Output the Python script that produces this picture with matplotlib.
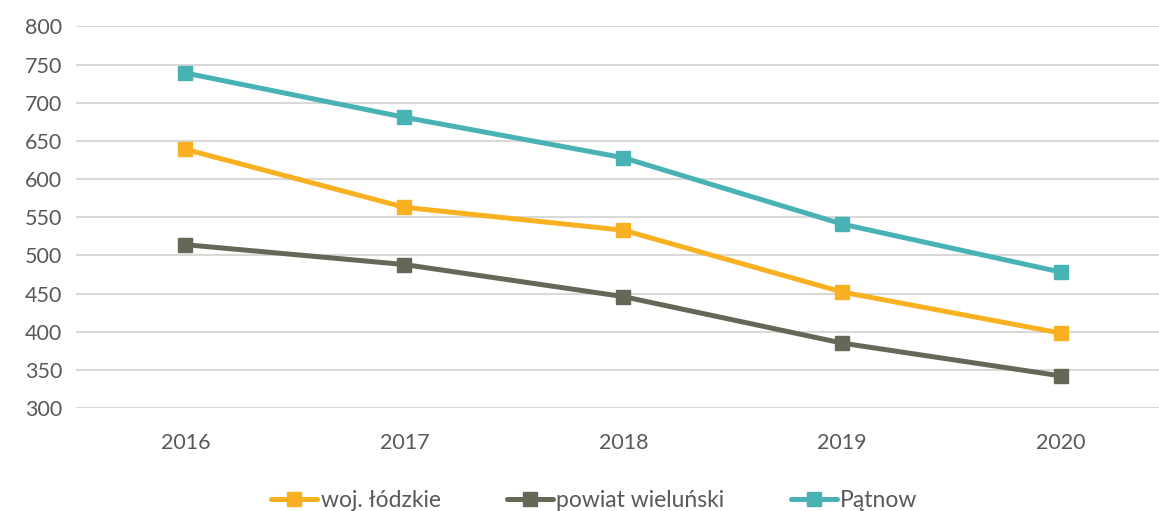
import matplotlib
matplotlib.use("Agg")
import matplotlib.pyplot as plt

years = ["2016", "2017", "2018", "2019", "2020"]
woj_lodzkie = [639, 563, 533, 452, 398]
powiat_wielunski = [514, 488, 446, 385, 342]
patnow = [739, 681, 628, 541, 478]

plt.rcParams['font.family'] = ['Lato', 'DejaVu Sans']

fig = plt.figure(figsize=(11.59, 5.11), dpi=100)
ax = fig.add_axes([0.0656, 0.2016, 0.9444, 0.7466])

x = list(range(len(years)))
series = [
    (woj_lodzkie, "woj. łódzkie", "#F9B122"),
    (powiat_wielunski, "powiat wieluński", "#646957"),
    (patnow, "Pątnow", "#48B2B4"),
]
for vals, label, col in series:
    ax.plot(x, vals, color=col, lw=3.6, marker="s", markersize=10.5,
            label=label, solid_capstyle="round", zorder=3)

ax.set_xlim(-0.5, len(years) - 0.5)
ax.set_ylim(300, 800)
ax.set_yticks(range(300, 801, 50))
ax.set_xticks(x)
ax.set_xticklabels(years)
ax.grid(axis="y", color="#D9D9D9", lw=1.5)
ax.set_axisbelow(True)
for s in ax.spines.values():
    s.set_visible(False)
ax.tick_params(length=0, labelsize=15.5, labelcolor="#595959")
ax.tick_params(axis="y", pad=10)
ax.tick_params(axis="x", pad=18)

fig.legend(loc="lower center", bbox_to_anchor=(0.513, -0.04), ncol=3, frameon=False,
           fontsize=16.5, labelcolor="#595959", handlelength=2.0, columnspacing=2.9,
           handletextpad=0.15)

fig.savefig("out.png", dpi=100)
